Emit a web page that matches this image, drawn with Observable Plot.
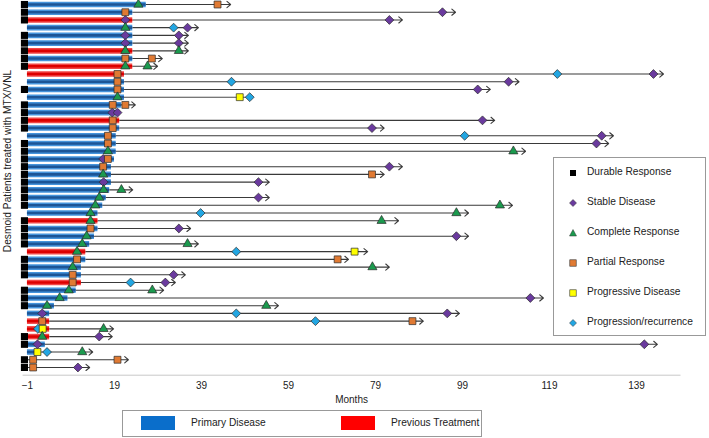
<!DOCTYPE html>
<html><head><meta charset="utf-8">
<script src="https://cdn.jsdelivr.net/npm/d3@7"></script>
<script src="https://cdn.jsdelivr.net/npm/@observablehq/plot@0.6"></script>
<style>
body{margin:0;background:#fff;font-family:"Liberation Sans",Arial,sans-serif;}
#wrap{position:relative;width:709px;height:438px;overflow:hidden;}
#ylab{position:absolute;left:7px;top:161px;width:0;height:0;}
#ylab span{position:absolute;white-space:nowrap;font-size:10.2px;color:#222;transform:translate(-50%,-50%) rotate(-90deg);}
#leg{position:absolute;left:553px;top:157px;width:153px;height:179px;border:1px solid #999;box-sizing:border-box;background:#fff;font-size:10.2px;color:#222;}
#leg .it{position:absolute;left:0;height:14px;line-height:14px;}
#leg svg{position:absolute;left:14px;top:3px;}
#leg .tx{position:absolute;left:33px;white-space:nowrap;}
#bleg{position:absolute;left:122px;top:410px;width:360px;height:27px;border:1px solid #999;box-sizing:border-box;font-size:10.2px;color:#222;}
#bleg .sw{position:absolute;top:5px;width:34px;height:14px;}
#bleg .tx{position:absolute;top:6px;white-space:nowrap;}
</style></head><body><div id="wrap"></div>
<script>
// ---- data ----
const rowIds = d3.range(1, 49);
const barStart = -1;
// "P" = Primary Disease (blue), "T" = Previous Treatment (red)
const barType = ["P","P","T","P","P","P","T","P","T","T","P","P","P","P","P","T","P","P","P","P","P","P","P","P",
                 "P","P","P","P","T","P","P","P","T","P","P","P","T","P","P","P","P","T","T","T","P","P","P","P"];
const barEnd = [26.3,23.2,23.2,23.2,23.2,23.2,23.2,23.2,23.2,21.3,21.3,21.3,21.3,20.6,20.2,20.2,20.2,19.4,19.4,19.4,19.0,18.3,18.3,18.3,
                17.9,17.1,16.3,15.2,15.2,15.2,14.4,13.3,12.4,12.4,11.4,11.4,11.4,10.2,8.3,5.2,4.1,4.1,4.1,4.1,3.1,2.2,-1,-1];
const durable = [1,1,1,0,1,1,1,1,1,0,0,1,0,1,1,1,1,0,1,1,1,1,1,1,
                 1,1,1,0,1,1,1,1,0,1,1,1,0,1,1,1,0,0,0,1,1,0,1,1];
const followEnd = [45.7,97.4,85.2,38.3,36,36,36,30,28.9,145.2,112,105.4,50.1,23.8,null,106.4,81,133.7,132.6,113.5,null,85.2,81,54.6,
                   23.2,54.6,110.5,100.4,84.3,36.5,100.4,38.3,77.2,72.8,82.2,35.3,33,30.3,117.6,56.7,98.3,90,18.8,18.5,143.8,14,22.2,13.3];
const arrowed = [1,1,1,1,1,1,1,1,1,1,1,1,0,1,0,1,1,1,1,1,0,1,1,1,
                 1,1,1,1,1,1,1,1,1,1,1,1,1,1,1,1,1,1,1,1,1,1,1,1];
// events per patient: [type, month]; S stable, C complete, P partial, D progressive, R progression/recurrence
const events = [
  [["C",24.5],["P",42.7]], [["P",21.5],["S",94.4]], [["S",21.5],["S",82.2]], [["C",21.5],["R",32.6],["S",35.8]],
  [["S",21.5],["S",33.8]], [["S",21.5],["S",33.8]], [["C",21.5],["C",33.8]], [["P",21.5],["P",27.6]],
  [["C",21.5],["C",26.6]], [["P",19.7],["R",120.8],["S",142.9]], [["P",19.7],["R",45.9],["S",109.6]], [["P",19.7],["S",102.5]],
  [["C",19.7],["D",47.8],["R",50.1]], [["P",18.6],["P",21.5]], [["S",18.5],["S",19.7]], [["P",18.6],["S",103.6]],
  [["P",18.6],["S",78.2]], [["P",17.5],["R",99.5],["S",131]], [["P",17.5],["S",129.8]], [["C",17.5],["C",110.7]],
  [["S",16.4],["P",17.5]], [["P",16.4],["S",82.2]], [["C",16.4],["P",78.2]], [["S",16.5],["S",52.1]],
  [["C",16.5],["C",20.6]], [["C",15.5],["S",52.1]], [["C",14.6],["C",107.6]], [["C",13.5],["R",38.8],["C",97.6]],
  [["C",13.5],["C",80.4]], [["P",13.5],["S",33.8]], [["C",12.6],["S",97.6]], [["C",11.6],["C",35.8]],
  [["C",10.4],["R",47],["D",74.2]], [["P",10.4],["P",70.3]], [["C",9.4],["C",78.3]], [["P",9.4],["S",32.6]],
  [["P",9.4],["R",22.7],["S",30.7]], [["C",8.5],["C",27.7]], [["C",6.4],["S",114.6]], [["C",3.5],["C",53.9]],
  [["S",2.4],["R",47],["S",95.5]], [["P",2.4],["R",65.2],["P",87.5]], [["R",1.4],["D",2.5],["C",16.5]], [["C",2.4],["S",15.5]],
  [["S",1.3],["S",140.8]], [["D",1.3],["R",3.5],["C",11.6]], [["P",0.3],["P",19.7]], [["P",0.3],["S",10.6]]
];
const xTicks = [-1, 19, 39, 59, 79, 99, 119, 139];
const eventLabels = {S: "Stable Disease", C: "Complete Response", P: "Partial Response", D: "Progressive Disease", R: "Progression/recurrence"};
const barLabels = {P: "Primary Disease", T: "Previous Treatment"};

// ---- styles ----
const evStyle = {
  S: {symbol: "diamond2", fill: "#6a3a9e", r: 4},
  C: {symbol: "triangle", fill: "#1b9a4e", r: 3.4},
  P: {symbol: "square", fill: "#e07a33", r: 3.9},
  D: {symbol: "square", fill: "#ffff00", r: 3.9},
  R: {symbol: "diamond2", fill: "#22a6e2", r: 4}
};
const barOuter = {P: "#4594dc", T: "#f24646"};
const barInner = {P: "#1c5596", T: "#dc0000"};
const barLegend = {P: "#0a6ecb", T: "#ff0000"};

const patients = rowIds.map((id, i) => ({
  id, type: barType[i], start: barStart, end: barEnd[i], durable: durable[i] === 1,
  follow: followEnd[i], arrow: arrowed[i] === 1
}));
const evData = patients.flatMap((p, i) => events[i].map(([t, m]) => ({id: p.id, t, m})));

const marks = [
  Plot.frame({anchor: "bottom", stroke: "#c8c8c8"}),
  Plot.ruleY(patients.filter(p => p.follow != null && !p.arrow),
    {y: "id", x1: "end", x2: "follow", stroke: "#4a4a4a", strokeWidth: 1.1}),
  Plot.arrow(patients.filter(p => p.follow != null && p.arrow),
    {x1: d => Math.max(d.end, d.start), x2: "follow", y1: "id", y2: "id", stroke: "#3a3a3a", strokeWidth: 1.1, headLength: 6.5, headAngle: 80}),
  Plot.ruleY(patients.filter(p => p.end > p.start),
    {y: "id", x1: "start", x2: "end", stroke: d => barOuter[d.type], strokeWidth: 5.6}),
  Plot.ruleY(patients.filter(p => p.end > p.start),
    {y: "id", x1: "start", x2: "end", stroke: d => barInner[d.type], strokeWidth: 2.6}),
  Plot.dot(patients.filter(p => p.durable),
    {y: "id", x: "start", dx: -3, symbol: "square", fill: "#000", r: 4}),
  Plot.dot(evData, {
    x: "m", y: "id", symbol: d => evStyle[d.t].symbol, fill: d => evStyle[d.t].fill,
    r: d => evStyle[d.t].r, stroke: "#2a2a2a", strokeWidth: 0.7
  })
];

const chart = Plot.plot({
  width: 709, height: 408,
  marginLeft: 22.6, marginRight: 29.5, marginTop: 0.14, marginBottom: 33.3,
  style: {fontFamily: '"Liberation Sans", Arial, sans-serif', fontSize: "10px", color: "#222", background: "transparent"},
  x: {domain: [-2, 149], ticks: xTicks, tickSize: 0, tickPadding: 7, label: "Months", labelAnchor: "center", labelArrow: "none", labelOffset: 28},
  y: {domain: [49, 0.5], axis: null},
  r: {type: "identity"},
  symbol: {type: "identity"},
  marks
});

const wrap = document.getElementById("wrap");
wrap.appendChild(chart);

// y axis title
const yl = document.createElement("div");
yl.id = "ylab";
yl.innerHTML = "<span>Desmoid Patients treated with MTX/VNL</span>";
wrap.appendChild(yl);

// right legend (event symbols)
const leg = document.createElement("div");
leg.id = "leg";
const legItems = [["K", "Durable Response"], ...["S", "C", "P", "D", "R"].map(k => [k, eventLabels[k]])];
const sym = {
  K: '<rect x="2" y="2" width="6" height="6" fill="#000"/>',
  S: '<path d="M5,1.5L8.5,5L5,8.5L1.5,5Z" fill="#6a3a9e" stroke="#333" stroke-width="0.5"/>',
  C: '<path d="M5,1.5L8.5,8L1.5,8Z" fill="#1b9a4e" stroke="#333" stroke-width="0.5"/>',
  P: '<rect x="1.8" y="1.8" width="6.4" height="6.4" fill="#e07a33" stroke="#333" stroke-width="0.6"/>',
  D: '<rect x="1.8" y="1.8" width="6.4" height="6.4" fill="#ffff00" stroke="#333" stroke-width="0.6"/>',
  R: '<path d="M5,1.5L8.5,5L5,8.5L1.5,5Z" fill="#22a6e2" stroke="#333" stroke-width="0.5"/>'
};
legItems.forEach(([k, label], i) => {
  const d = document.createElement("div");
  d.className = "it";
  d.style.top = (7 + i * 30) + "px";
  d.innerHTML = `<svg width="10" height="10">${sym[k]}</svg><span class="tx">${label}</span>`;
  leg.appendChild(d);
});
wrap.appendChild(leg);

// bottom legend (bar colours)
const bleg = document.createElement("div");
bleg.id = "bleg";
["P", "T"].forEach((k, i) => {
  bleg.innerHTML += `<div class="sw" style="left:${18 + i * 200}px;background:${barLegend[k]}"></div>` +
                    `<div class="tx" style="left:${68 + i * 200}px">${barLabels[k]}</div>`;
});
wrap.appendChild(bleg);
</script>
</body></html>
